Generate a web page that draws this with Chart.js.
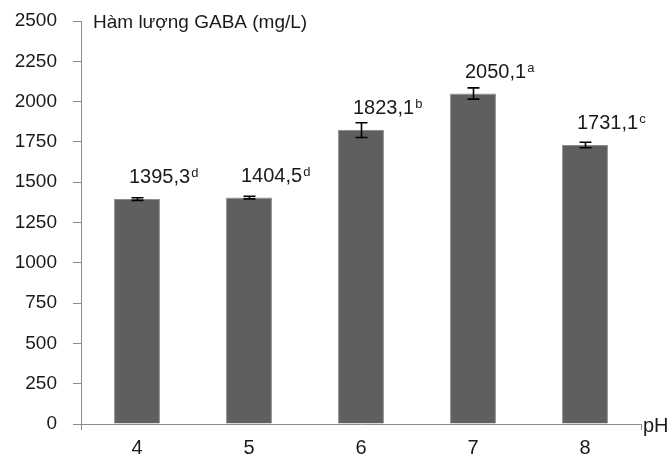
<!DOCTYPE html>
<html>
<head>
<meta charset="utf-8">
<script src="https://cdn.jsdelivr.net/npm/chart.js@4/dist/chart.umd.min.js"></script>
<style>
  html, body { margin: 0; padding: 0; background: #ffffff; }
  canvas { display: block; }
</style>
</head>
<body>
<canvas id="chart" width="670" height="457"></canvas>
<script>
// GABA content by pH
const categories = ['4', '5', '6', '7', '8'];
const gaba = [1395.3, 1404.5, 1823.1, 2050.1, 1731.1];
const gabaErr = [8, 8, 46, 35, 17];
const groups = ['d', 'd', 'b', 'a', 'c'];
const yMax = 2500;
const yStep = 250;
const yTitle = 'Hàm lượng GABA (mg/L)';
const xTitle = 'pH';

const FONT = "'Liberation Sans', Arial, sans-serif";
const TEXT = '#1a1a1a';
const AXIS = '#8c8c8c';

const overlay = {
  id: 'overlay',
  afterDatasetsDraw(chart) {
    const ctx = chart.ctx;
    const y = chart.scales.y;
    const meta = chart.getDatasetMeta(0);
    const area = chart.chartArea;
    ctx.save();

    // error bars
    ctx.strokeStyle = '#000000';
    ctx.lineWidth = 1.6;
    meta.data.forEach((bar, i) => {
      const cx = Math.round(bar.x) + 0.5;
      const yHi = y.getPixelForValue(gaba[i] + gabaErr[i]);
      const yLo = y.getPixelForValue(gaba[i] - gabaErr[i]);
      ctx.beginPath();
      ctx.moveTo(cx, yHi); ctx.lineTo(cx, yLo);
      ctx.moveTo(cx - 6, yHi); ctx.lineTo(cx + 6, yHi);
      ctx.moveTo(cx - 6, yLo); ctx.lineTo(cx + 6, yLo);
      ctx.stroke();
    });

    // value labels with significance letters
    ctx.fillStyle = TEXT;
    ctx.textBaseline = 'alphabetic';
    ctx.textAlign = 'left';
    meta.data.forEach((bar, i) => {
      const txt = gaba[i].toFixed(1).replace('.', ',');
      const bx = bar.x - 8;
      const by = y.getPixelForValue(gaba[i]) - 16;
      ctx.font = '20px ' + FONT;
      ctx.fillText(txt, bx, by);
      const w = ctx.measureText(txt).width;
      ctx.font = '13px ' + FONT;
      ctx.fillText(groups[i], bx + w + 1, by - 6);
    });

    // axis titles
    ctx.font = '19px ' + FONT;
    ctx.fillText(yTitle, 93, 28);
    ctx.font = '20px ' + FONT;
    ctx.fillText(xTitle, area.right + 2, area.bottom + 8);
    ctx.restore();
  }
};

new Chart(document.getElementById('chart'), {
  type: 'bar',
  data: {
    labels: categories,
    datasets: [{
      data: gaba,
      backgroundColor: '#5f5f5f',
      borderColor: '#8e8e8e',
      borderWidth: 1,
      categoryPercentage: 1,
      barPercentage: 0.41
    }]
  },
  options: {
    responsive: false,
    animation: false,
    devicePixelRatio: 1,
    layout: { padding: { top: 21, right: 29, left: 0, bottom: 0 } },
    plugins: { legend: { display: false }, tooltip: { enabled: false } },
    scales: {
      x: {
        afterFit(s) { s.height = 33; },
        grid: {
          display: true,
          drawOnChartArea: false,
          offset: true,
          tickLength: 6,
          color: c => (c.type === 'scale' || c.index === 0) ? AXIS : 'rgba(0,0,0,0)'
        },
        border: { display: true, color: AXIS, width: 1 },
        ticks: { color: TEXT, font: { family: FONT, size: 20 }, padding: 6 }
      },
      y: {
        min: 0,
        max: yMax,
        afterFit(s) { s.width = 81; s.paddingTop = 0; s.paddingBottom = 0; },
        grid: { drawOnChartArea: false, tickLength: 8, color: AXIS },
        border: { display: true, color: AXIS, width: 1 },
        ticks: {
          stepSize: yStep,
          color: TEXT,
          padding: 16,
          font: { family: FONT, size: 19 },
          callback: v => String(v)
        }
      }
    }
  },
  plugins: [overlay]
});
</script>
</body>
</html>
